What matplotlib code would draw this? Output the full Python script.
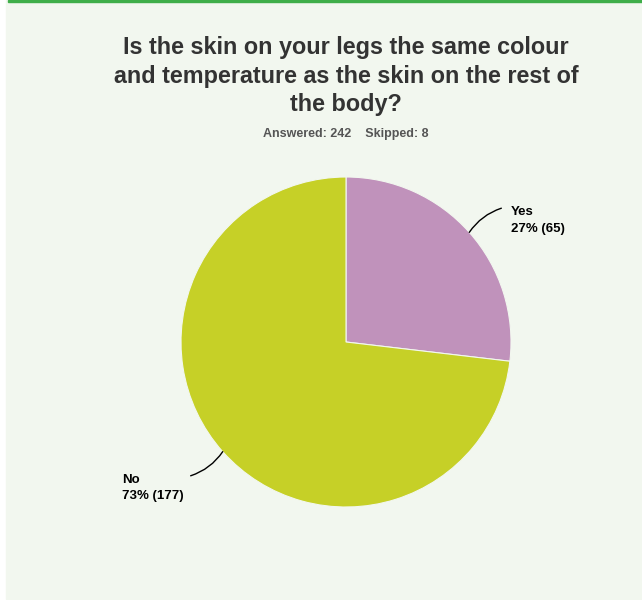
import matplotlib.pyplot as plt
import numpy as np

plt.rcParams["font.family"] = ["Liberation Sans", "DejaVu Sans"]

title = "Is the skin on your legs the same colour\nand temperature as the skin on the rest of\nthe body?"
answered = 242
skipped = 8
labels = ["Yes", "No"]
counts = [65, 177]
percents = [27, 73]
colors = ["#c092bb", "#c6d027"]

W, H = 642, 600
fig = plt.figure(figsize=(W / 100, H / 100), dpi=100)
fig.patch.set_facecolor("white")

# light panel with green top rule
fig.patches.append(plt.Rectangle((6 / W, 1 / H), 1 - 6 / W, 1 - 1 / H,
                                 transform=fig.transFigure, color="#f2f7ef", zorder=0))
fig.patches.append(plt.Rectangle((8 / W, 1 - 2 / H), 1, 2 / H,
                                 transform=fig.transFigure, color="#3fae49", zorder=1))

fig.text(346 / W, 1 - 76 / H, title, ha="center", va="center", fontsize=16.8,
         fontweight="bold", color="#333333", linespacing=1.31, zorder=3)
fig.text(346 / W, 1 - 134 / H, f"Answered: {answered}    Skipped: {skipped}",
         ha="center", va="center", fontsize=9, fontweight="bold", color="#555555", zorder=3)

cx, cy, r = 346, 342, 165
ax = fig.add_axes([(cx - r) / W, (H - cy - r) / H, 2 * r / W, 2 * r / H], zorder=2)
ax.patch.set_visible(False)
wedges, _ = ax.pie(counts, colors=colors, startangle=90, counterclock=False,
                   wedgeprops=dict(linewidth=0.8, edgecolor="#f2f7ef"))
ax.set_xlim(-1, 1)
ax.set_ylim(-1, 1)
ax.axis("off")

for w, lab, p, n in zip(wedges, labels, percents, counts):
    ang = np.deg2rad((w.theta1 + w.theta2) / 2)
    x, y = np.cos(ang), np.sin(ang)
    sx = 1 if x >= 0 else -1
    end = (1.26 * x, 1.22 * y)
    ax.annotate("", xy=(x, y), xytext=end,
                arrowprops=dict(arrowstyle="-", color="black", lw=1,
                                connectionstyle="arc3,rad=0.17",
                                shrinkA=0, shrinkB=0),
                annotation_clip=False)
    tx = end[0] + (0.06 if sx > 0 else -0.04)
    ax.text(tx, end[1] - 0.075, f"{lab}\n{p}% ({n})", ha="left" if sx > 0 else "right",
            va="center", multialignment="left",
            fontsize=9.5, fontweight="bold", color="black", linespacing=1.5,
            clip_on=False)

fig.savefig("out.png", dpi=100, facecolor=fig.get_facecolor())
